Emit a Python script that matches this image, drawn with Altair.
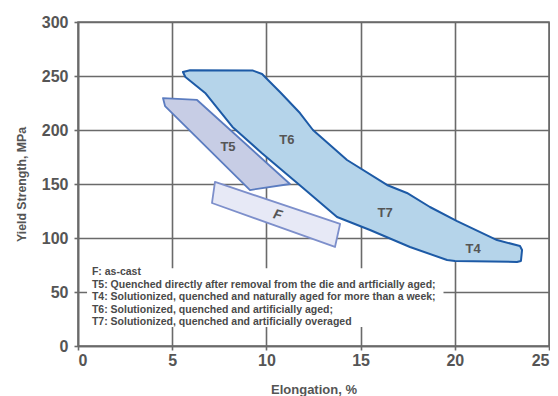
import altair as alt
import pandas as pd

# Polygon outlines (Elongation %, Yield Strength MPa)
big_x = [5.57, 5.95, 9.29, 9.77, 10.19, 10.72, 11.78, 12.47, 14.28, 16.40, 17.46, 18.68, 20.12, 22.24, 23.46, 23.57, 23.51, 23.30, 20.01, 19.59, 17.62, 15.50, 13.75, 11.90, 9.75, 8.20, 6.75, 5.70]
big_y = [253.7, 255.3, 255.0, 251.9, 244.4, 235.2, 215.7, 200.0, 172.2, 149.1, 141.7, 128.7, 115.7, 98.1, 92.6, 88.9, 78.7, 77.8, 78.7, 79.6, 91.7, 107.4, 119.4, 147.0, 178.7, 202.8, 234.3, 249.1]

t5_x = [4.51, 6.32, 11.25, 9.13, 4.62]
t5_y = [229.6, 227.8, 150.0, 144.4, 222.2]

f_x = [7.27, 13.91, 13.64, 7.11]
f_y = [151.9, 113.0, 91.7, 132.4]

# Region labels
lab_text = ["T5", "T6", "T7", "T4"]
lab_x = [7.96, 11.09, 16.3, 20.97]
lab_y = [184, 190.7, 123, 89.8]

f_lab_x = [10.6]
f_lab_y = [121]

legend_lines = [
    "F: as-cast",
    "T5: Quenched directly after removal from the die and artficially aged;",
    "T4: Solutionized, quenched and naturally aged for more than a week;",
    "T6: Solutionized, quenched and artificially aged;",
    "T7: Solutionized, quenched and artificially overaged",
]
legend_x = [0.74]
legend_y = [65.7]
box_x = [0.48]
box_x2 = [19.4]
box_y = [17.6]
box_y2 = [72.0]

x_ticks = [0, 5, 10, 15, 20, 25]
y_ticks = [0, 50, 100, 150, 200, 250, 300]


def poly_df(xs, ys):
    return pd.DataFrame({"x": xs, "y": ys, "i": list(range(len(xs)))})


xs = alt.Scale(domain=[0, 25], nice=False)
ys = alt.Scale(domain=[0, 300], nice=False)

GRID = "#6a6a6a"
TXT = "#555555"
FONT = "Liberation Sans"

xenc = alt.X("x:Q", scale=xs, title="Elongation, %",
             axis=alt.Axis(values=x_ticks, grid=True, format="d"))
yenc = alt.Y("y:Q", scale=ys, title="Yield Strength, MPa",
             axis=alt.Axis(values=y_ticks, grid=True, format="d"))

box = alt.Chart(pd.DataFrame({"x": box_x, "x2": box_x2, "y": box_y, "y2": box_y2})).mark_rect(
    color="white"
).encode(x=xenc, x2="x2:Q", y=yenc, y2="y2:Q")


def polygon(xs_, ys_, fill, stroke, sw):
    return alt.Chart(poly_df(xs_, ys_)).mark_line(
        interpolate="linear-closed", fill=fill, stroke=stroke, strokeWidth=sw,
        strokeJoin="round", fillOpacity=1
    ).encode(x=alt.X("x:Q", scale=xs), y=alt.Y("y:Q", scale=ys), order="i:Q")


big = polygon(big_x, big_y, "#b5d4ea", "#1d5aa6", 2)
t5 = polygon(t5_x, t5_y, "#c7cde5", "#5b7cc0", 1.8)
fp = polygon(f_x, f_y, "#e7e9f6", "#7d8fcb", 1.8)

labels = alt.Chart(pd.DataFrame({"x": lab_x, "y": lab_y, "t": lab_text})).mark_text(
    font=FONT, fontSize=13, fontWeight="bold", color=TXT
).encode(x=alt.X("x:Q", scale=xs), y=alt.Y("y:Q", scale=ys), text="t:N")

flab = alt.Chart(pd.DataFrame({"x": f_lab_x, "y": f_lab_y, "t": ["F"]})).mark_text(
    font=FONT, fontSize=14, fontWeight="bold", fontStyle="italic", color=TXT, angle=15
).encode(x=alt.X("x:Q", scale=xs), y=alt.Y("y:Q", scale=ys), text="t:N")

legend = alt.Chart(pd.DataFrame({"x": legend_x, "y": legend_y, "t": ["\n".join(legend_lines)]})).mark_text(
    font=FONT, fontSize=10.5, fontWeight="bold", color="#4a4a4a", align="left",
    baseline="alphabetic", lineBreak="\n", lineHeight=12.6
).encode(x=alt.X("x:Q", scale=xs), y=alt.Y("y:Q", scale=ys), text="t:N")

chart = alt.layer(box, big, t5, fp, labels, flab, legend).properties(
    width=471, height=324,
    autosize=alt.AutoSizeParams(type="none"),
    padding={"left": 70, "top": 14, "right": 1, "bottom": 50},
).configure_view(stroke=GRID, strokeWidth=1.5).configure_axis(
    gridColor=GRID, gridWidth=1.6, gridOpacity=1,
    domainColor=GRID, domainWidth=1.6,
    tickColor=GRID, tickWidth=1.6, tickSize=4,
    labelFont=FONT, labelFontSize=16, labelFontWeight="bold", labelColor=TXT,
    titleFont=FONT, titleFontWeight="bold", titleColor=TXT,
).configure_axisY(labelPadding=6, titlePadding=13, titleFontSize=12.3).configure_axisX(
    labelPadding=2, titlePadding=15, titleFontSize=13)

chart.save("out.html", embed_options={"renderer": "svg", "actions": False})
